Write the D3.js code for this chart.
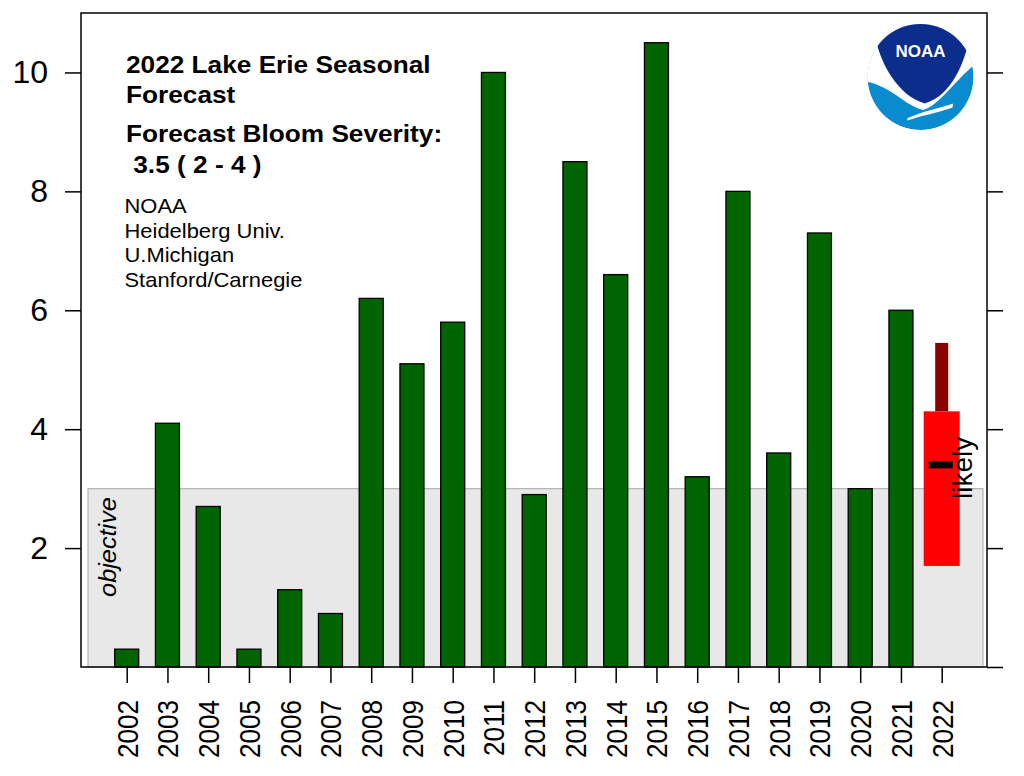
<!DOCTYPE html>
<html>
<head>
<meta charset="utf-8">
<script src="https://cdn.jsdelivr.net/npm/d3@7"></script>
<style>
  body { margin: 0; background: #fff; }
  svg { display: block; font-family: "Liberation Sans", Arial, sans-serif; }
</style>
</head>
<body>
<div id="chart"></div>
<script>
const years = ['2002', '2003', '2004', '2005', '2006', '2007', '2008', '2009', '2010', '2011',
  '2012', '2013', '2014', '2015', '2016', '2017', '2018', '2019', '2020', '2021', '2022'];
const severity = [0.3, 4.1, 2.7, 0.3, 1.3, 0.9, 6.2, 5.1, 5.8, 10.0,
  2.9, 8.5, 6.6, 10.5, 3.2, 8.0, 3.6, 7.3, 3.0, 6.0];
const forecastYear = '2022';
const forecastRange = [1.7, 4.3];
const forecastMax = 5.45;
const forecastPoint = 3.4;
const objective = 3;
const yTicks = [2, 4, 6, 8, 10];
const yTicksRight = [0, 2, 4, 6, 8, 10];
const titleLines = ['2022 Lake Erie Seasonal', 'Forecast', 'Forecast Bloom Severity:', ' 3.5 ( 2 - 4 )'];
const creditLines = ['NOAA', 'Heidelberg Univ.', 'U.Michigan', 'Stanford/Carnegie'];

const width = 1024;
const height = 776;
const plotLeft = 81, plotRight = 987, plotTop = 13, plotBottom = 667;

const svg = d3.select('#chart')
  .append('svg')
  .attr('width', width)
  .attr('height', height);

const x = d3.scalePoint()
  .domain(years)
  .range([126.7, 941.7]);

const y = d3.scaleLinear()
  .domain([0, 11])
  .range([plotBottom, plotTop]);

// objective band
svg.append('rect')
  .attr('x', 88)
  .attr('y', y(objective))
  .attr('width', 983 - 88)
  .attr('height', y(0) - y(objective))
  .attr('fill', '#e8e8e8')
  .attr('stroke', '#b4b4b4')
  .attr('stroke-width', 1.2);

svg.append('text')
  .attr('transform', `translate(116, 547) rotate(-90) scale(1.1, 1)`)
  .attr('text-anchor', 'middle')
  .attr('font-size', 23)
  .attr('font-style', 'italic')
  .text('objective');

// observed bars
svg.selectAll('rect.bar')
  .data(severity)
  .enter().append('rect')
  .attr('class', 'bar')
  .attr('x', (d, i) => x(years[i]) - 12)
  .attr('y', d => y(d))
  .attr('width', 24)
  .attr('height', d => y(0) - y(d))
  .attr('fill', '#006400')
  .attr('stroke', '#000')
  .attr('stroke-width', 1.3);

// forecast
const fx = x(forecastYear);
svg.append('rect')
  .attr('x', fx - 6.5)
  .attr('y', y(forecastMax))
  .attr('width', 13)
  .attr('height', y(forecastRange[1]) - y(forecastMax))
  .attr('fill', '#8b0000');

svg.append('rect')
  .attr('x', fx - 18)
  .attr('y', y(forecastRange[1]))
  .attr('width', 36)
  .attr('height', y(forecastRange[0]) - y(forecastRange[1]))
  .attr('fill', '#ff0000');

svg.append('line')
  .attr('x1', fx - 13)
  .attr('x2', fx + 11)
  .attr('y1', y(forecastPoint))
  .attr('y2', y(forecastPoint))
  .attr('stroke', '#000')
  .attr('stroke-width', 7);

svg.append('text')
  .attr('transform', `translate(972, ${y(forecastPoint) + 3}) rotate(-90)`)
  .attr('text-anchor', 'middle')
  .attr('font-size', 28)
  .text('likely');

// frame
svg.append('rect')
  .attr('x', plotLeft)
  .attr('y', plotTop)
  .attr('width', plotRight - plotLeft)
  .attr('height', plotBottom - plotTop)
  .attr('fill', 'none')
  .attr('stroke', '#000')
  .attr('stroke-width', 1.5);

// axes
const yAxis = svg.append('g')
  .attr('transform', `translate(${plotLeft}, 0)`)
  .call(d3.axisLeft(y).tickValues(yTicks).tickSize(16).tickPadding(17));
yAxis.select('.domain').remove();
yAxis.selectAll('.tick line').attr('stroke-width', 1.5);
yAxis.selectAll('.tick text')
  .attr('font-size', 32)
  .attr('font-family', '"Liberation Sans", Arial, sans-serif')
  .attr('fill', '#000');

const yAxisRight = svg.append('g')
  .attr('transform', `translate(${plotRight}, 0)`)
  .call(d3.axisRight(y).tickValues(yTicksRight).tickSize(16).tickFormat(''));
yAxisRight.select('.domain').remove();
yAxisRight.selectAll('.tick line').attr('stroke-width', 1.5);

const xAxis = svg.append('g')
  .attr('transform', `translate(0, ${plotBottom})`)
  .call(d3.axisBottom(x).tickSize(16).tickFormat(''));
xAxis.select('.domain').remove();
xAxis.selectAll('.tick line').attr('stroke-width', 1.5);

svg.selectAll('text.year')
  .data(years)
  .enter().append('text')
  .attr('class', 'year')
  .attr('transform', d => `translate(${x(d) + 11}, 700) rotate(-90) scale(0.87, 1)`)
  .attr('text-anchor', 'end')
  .attr('font-size', 30)
  .text(d => d);

// title block
const titleY = [73, 103, 142, 173];
titleLines.forEach((t, i) => {
  svg.append('text')
    .attr('transform', `translate(126, ${titleY[i]}) scale(1.14, 1)`)
    .attr('font-size', 23)
    .attr('font-weight', 'bold')
    .style('white-space', 'pre')
    .text(t);
});

creditLines.forEach((t, i) => {
  svg.append('text')
    .attr('transform', `translate(124.5, ${213 + i * 24.7}) scale(1.07, 1)`)
    .attr('font-size', 20.5)
    .text(t);
});

// NOAA logo
const cx = 920.5, cy = 77, r = 53;
const P = (u, v) => `${(cx + u * r).toFixed(1)},${(cy + v * r).toFixed(1)}`;
const logo = svg.append('g');
logo.append('clipPath').attr('id', 'logo-clip')
  .append('circle').attr('cx', cx).attr('cy', cy).attr('r', r);
const lg = logo.append('g').attr('clip-path', 'url(#logo-clip)');
lg.append('circle').attr('cx', cx).attr('cy', cy).attr('r', r).attr('fill', '#0a8bd0');
lg.append('path')
  .attr('fill', '#fff')
  .attr('d', `M${P(-1.1, 0.08)} C${P(-0.6, 0.12)} ${P(-0.3, 0.55)} ${P(0.05, 0.62)} ` +
    `C${P(0.35, 0.55)} ${P(0.65, 0.05)} ${P(1.1, -0.3)} L${P(1.1, -1.1)} L${P(-1.1, -1.1)} Z`);
lg.append('path')
  .attr('fill', '#0b2d8c')
  .attr('d', `M${P(-0.82, -0.62)} C${P(-0.75, -0.3)} ${P(-0.45, 0.35)} ${P(0.08, 0.5)} ` +
    `C${P(0.6, 0.35)} ${P(0.82, -0.3)} ${P(0.9, -0.62)} L${P(0.9, -1.1)} L${P(-0.82, -1.1)} Z`);
lg.append('path')
  .attr('fill', '#fff')
  .attr('d', `M${P(-0.25, 0.78)} C${P(0.1, 0.62)} ${P(0.35, 0.6)} ${P(0.62, 0.5)} ` +
    `L${P(0.6, 0.58)} C${P(0.3, 0.68)} ${P(0.05, 0.72)} ${P(-0.25, 0.82)} Z`);
logo.append('text')
  .attr('x', cx)
  .attr('y', 57)
  .attr('text-anchor', 'middle')
  .attr('font-size', 17)
  .attr('font-weight', 'bold')
  .attr('fill', '#fff')
  .text('NOAA');
</script>
</body>
</html>
